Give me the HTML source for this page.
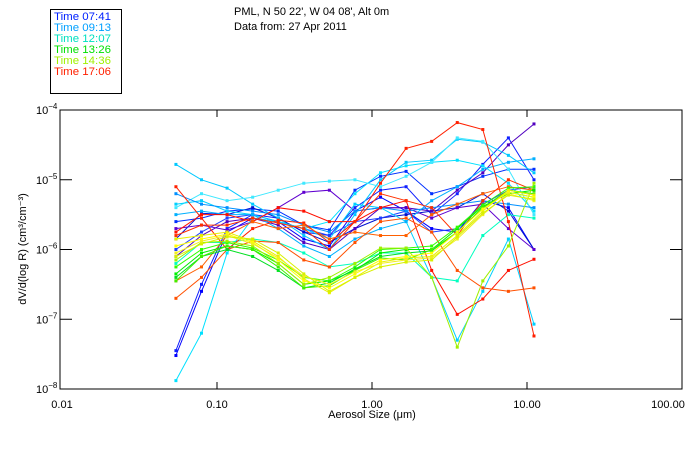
<!DOCTYPE html>
<html><head><meta charset="utf-8"><style>
body{margin:0;background:#fff;width:700px;height:450px;overflow:hidden;font-family:"Liberation Sans",sans-serif}
svg text{font-family:"Liberation Sans",sans-serif;font-size:11px}
</style></head><body>
<svg id="chart" width="700" height="450" xmlns="http://www.w3.org/2000/svg">
<defs><clipPath id="plotclip"><rect x="60" y="110" width="622" height="279"/></clipPath></defs>
<rect x="50.5" y="9.5" width="71" height="84" fill="#fff" stroke="#000"/>
<g>
<text x="54" y="20" fill="#0020ff" textLength="57" lengthAdjust="spacingAndGlyphs">Time 07:41</text>
<text x="54" y="31" fill="#00a0ff" textLength="57" lengthAdjust="spacingAndGlyphs">Time 09:13</text>
<text x="54" y="42" fill="#00e0c0" textLength="57" lengthAdjust="spacingAndGlyphs">Time 12:07</text>
<text x="54" y="53" fill="#00e000" textLength="57" lengthAdjust="spacingAndGlyphs">Time 13:26</text>
<text x="54" y="64" fill="#a0f000" textLength="57" lengthAdjust="spacingAndGlyphs">Time 14:36</text>
<text x="54" y="75" fill="#ff2000" textLength="57" lengthAdjust="spacingAndGlyphs">Time 17:06</text>
</g>
<text x="234" y="15">PML, N 50 22', W 04 08', Alt 0m</text>
<text x="234" y="30">Data from: 27 Apr 2011</text>
<g id="series" clip-path="url(#plotclip)"></g>
<rect x="60" y="110" width="622" height="279" fill="none" stroke="#000"/>
<g id="axes"></g>
<text x="372" y="418" text-anchor="middle">Aerosol Size (μm)</text>
<text transform="translate(26,249) rotate(-90)" text-anchor="middle">dV/d(log R) (cm³/cm⁻³)</text>
</svg>
<script>
const sizeExps = [-1.265,-1.10,-0.935,-0.77,-0.605,-0.44,-0.275,-0.11,0.055,0.22,0.385,0.55,0.715,0.88,1.045];
const xTickLabels = ["0.01","0.10","1.00","10.00","100.00"];
const xTickExps = [-2,-1,0,1,2];
const yTickExps = [-4,-5,-6,-7,-8];
const seriesColors = ["#e8f000","#ffff00","#f0f020","#d8f000","#00f000","#30ff00","#00e020","#a0f000","#40f000",
"#0000ff","#1020ff","#0030ff","#0010d0","#2040ff","#6000d0","#5000c0",
"#00e0ff","#00c8ff","#40e8ff","#00d0ff","#0090ff","#00b0ff","#00ffc0",
"#ff2000","#ff1000","#ff6000","#ff5000","#ff3000"];
const s0=[-5.85,-5.80,-5.75,-5.88,-6.10,-6.42,-6.62,-6.40,-6.18,-6.12,-6.10,-5.80,-5.45,-5.15,-5.22];
const s1=[-5.95,-5.85,-5.78,-5.90,-6.15,-6.45,-6.55,-6.35,-6.15,-6.10,-6.05,-5.75,-5.42,-5.18,-5.25];
const s2=[-6.05,-5.88,-5.80,-5.92,-6.12,-6.38,-6.50,-6.32,-6.20,-6.15,-6.12,-5.85,-5.50,-5.20,-5.30];
const s3=[-6.10,-5.92,-5.82,-5.85,-6.05,-6.35,-6.60,-6.40,-6.25,-6.18,-6.15,-5.82,-5.48,-5.22,-5.28];
const s4=[-6.35,-6.05,-5.95,-6.00,-6.20,-6.50,-6.45,-6.30,-6.05,-6.00,-6.00,-5.70,-5.38,-5.20,-5.15];
const s5=[-6.25,-6.00,-5.90,-5.98,-6.15,-6.40,-6.45,-6.25,-6.00,-5.98,-5.95,-5.68,-5.36,-5.12,-5.10];
const s6=[-6.40,-6.10,-6.00,-6.10,-6.30,-6.55,-6.48,-6.28,-6.10,-6.05,-6.02,-5.75,-5.40,-5.18,-5.25];
const s7=[-6.15,-5.90,-5.88,-5.95,-6.20,-6.50,-6.40,-6.20,-5.98,-5.98,-6.40,-7.40,-6.45,-5.95,-5.05];
const s8=[-6.45,-6.10,-5.95,-6.00,-6.25,-6.55,-6.52,-6.30,-6.12,-6.15,-6.00,-5.75,-5.40,-5.15,-5.20];
const s9=[-7.52,-6.60,-5.75,-5.55,-5.60,-5.85,-5.95,-5.45,-5.25,-5.45,-5.70,-5.75,-5.30,-5.40,-6.00];
const s10=[-7.45,-6.50,-5.70,-5.50,-5.55,-5.75,-5.80,-5.40,-5.15,-5.10,-5.50,-5.20,-4.78,-4.40,-5.00];
const s11=[-5.60,-5.55,-5.45,-5.42,-5.45,-5.65,-5.72,-5.15,-4.95,-4.88,-5.20,-5.10,-4.95,-4.85,-4.85];
const s12=[-5.85,-5.48,-5.50,-5.40,-5.55,-5.75,-5.90,-5.70,-5.55,-5.50,-5.45,-5.40,-5.20,-5.45,-6.00];
const s13=[-6.00,-5.75,-5.55,-5.50,-5.60,-5.70,-5.80,-5.60,-5.55,-5.45,-5.75,-5.70,-5.35,-5.15,-5.10];
const s14=[-5.70,-5.65,-5.72,-5.60,-5.40,-5.18,-5.15,-5.45,-5.40,-5.40,-5.55,-5.40,-5.35,-5.70,-6.00];
const s15=[-6.10,-5.80,-5.60,-5.55,-5.65,-5.90,-6.00,-5.70,-5.40,-5.40,-5.45,-5.15,-4.90,-4.50,-4.20];
const s16=[-7.88,-7.20,-6.05,-5.55,-5.60,-5.70,-5.60,-5.20,-4.90,-4.80,-4.75,-4.72,-4.80,-5.05,-5.45];
const s17=[-4.78,-5.00,-5.12,-5.35,-5.55,-5.80,-6.00,-5.50,-5.00,-4.75,-4.72,-4.42,-4.46,-4.65,-4.90];
const s18=[-5.40,-5.20,-5.30,-5.25,-5.15,-5.05,-5.02,-5.00,-5.10,-4.95,-4.75,-4.40,-4.45,-4.85,-5.50];
const s19=[-5.35,-5.30,-5.45,-5.50,-5.60,-5.70,-5.85,-5.35,-5.40,-5.60,-6.40,-7.30,-6.60,-5.85,-7.07];
const s20=[-5.20,-5.35,-5.40,-5.45,-5.50,-5.65,-5.75,-5.45,-5.40,-5.45,-5.40,-5.35,-5.30,-5.35,-5.40];
const s21=[-5.50,-5.45,-5.50,-5.50,-5.70,-5.95,-6.10,-5.85,-5.70,-5.60,-5.30,-5.10,-4.85,-4.75,-4.70];
const s22=[-6.20,-5.90,-5.90,-5.85,-5.90,-6.05,-6.25,-6.20,-6.05,-6.05,-6.40,-6.45,-5.80,-5.50,-5.55];
const s23=[-5.10,-5.55,-6.00,-5.70,-5.58,-5.62,-5.90,-5.60,-5.05,-4.55,-4.45,-4.18,-4.28,-5.60,-7.24];
const s24=[-5.75,-5.50,-5.50,-5.60,-5.40,-5.45,-5.60,-5.60,-5.40,-5.30,-6.30,-6.93,-6.71,-6.30,-6.14];
const s25=[-6.45,-6.25,-5.80,-5.60,-5.70,-5.65,-5.85,-5.75,-5.80,-5.80,-5.50,-5.35,-5.20,-5.10,-5.15];
const s26=[-6.70,-6.40,-6.00,-5.88,-5.90,-6.15,-6.25,-5.90,-5.60,-5.55,-5.75,-6.30,-6.55,-6.60,-6.55];
const s27=[-5.80,-5.65,-5.65,-5.55,-5.62,-5.70,-6.00,-5.60,-5.20,-5.30,-5.40,-5.80,-5.30,-5.00,-5.15];
const allSeries=[s0,s1,s2,s3,s4,s5,s6,s7,s8,s9,s10,s11,s12,s13,s14,s15,s16,s17,s18,s19,s20,s21,s22,s23,s24,s25,s26,s27];

const NS="http://www.w3.org/2000/svg";
const L=60,R=682,T=110,B=389;
function xPos(e){return 62+155*(e+2);}
function yPos(e){return T+(B-T)*(-4-e)/4;}
const sg=document.getElementById('series');
const order=[9,10,11,12,13,14,15,16,17,18,19,20,21,22,23,24,25,26,27,4,5,6,8,7,0,1,2,3];
order.forEach(function(i){
  const d=allSeries[i];
  const g=document.createElementNS(NS,'g');
  
  
  const pl=document.createElementNS(NS,'polyline');
  
  
  pl.setAttribute('points',d.map(function(v,k){return xPos(sizeExps[k]).toFixed(1)+','+yPos(v).toFixed(1);}).join(' '));
  pl.setAttribute('fill','none');pl.setAttribute('stroke',seriesColors[i]);pl.setAttribute('stroke-width','1');
  g.appendChild(pl);
  d.forEach(function(v,k){
    const y=yPos(v);
    const m=document.createElementNS(NS,'rect');
    
    
    m.setAttribute('x',xPos(sizeExps[k])-1.5);m.setAttribute('y',y-1.5);
    m.setAttribute('width',3);m.setAttribute('height',3);m.setAttribute('fill',seriesColors[i]);
    g.appendChild(m);
  });
  sg.appendChild(g);
});

const ax=document.getElementById('axes');
xTickExps.forEach(function(e,i){
  const x=xPos(e);
  if(i>0&&i<xTickExps.length-1){
    ['b','t'].forEach(function(s){
      const t=document.createElementNS(NS,'line');
      
      
      t.setAttribute('x1',x);t.setAttribute('x2',x);
      t.setAttribute('y1',s=='b'?B:T);t.setAttribute('y2',s=='b'?B-7:T+7);t.setAttribute('stroke','#000');
      ax.appendChild(t);
    });
  }
  const tx=document.createElementNS(NS,'text');
  
  
  tx.setAttribute('x',Math.min(x,668));tx.setAttribute('y',408);tx.setAttribute('text-anchor','middle');
  tx.textContent=xTickLabels[i];ax.appendChild(tx);
});
yTickExps.forEach(function(e,i){
  const y=yPos(e);
  if(i>0&&i<yTickExps.length-1){
    ['l','r'].forEach(function(s){
      const t=document.createElementNS(NS,'line');
      
      
      t.setAttribute('y1',y);t.setAttribute('y2',y);
      t.setAttribute('x1',s=='l'?L:R);t.setAttribute('x2',s=='l'?L+12:R-12);t.setAttribute('stroke','#000');
      ax.appendChild(t);
    });
  }
  const tx=document.createElementNS(NS,'text');
  
  
  tx.setAttribute('x',36);tx.setAttribute('y',y+4);
  tx.textContent='10';
  const sp=document.createElementNS(NS,'tspan');
  sp.setAttribute('dy','-5');sp.setAttribute('font-size','8');
  sp.textContent='−'+(-e);
  tx.appendChild(sp);ax.appendChild(tx);
});
</script>
</body></html>
